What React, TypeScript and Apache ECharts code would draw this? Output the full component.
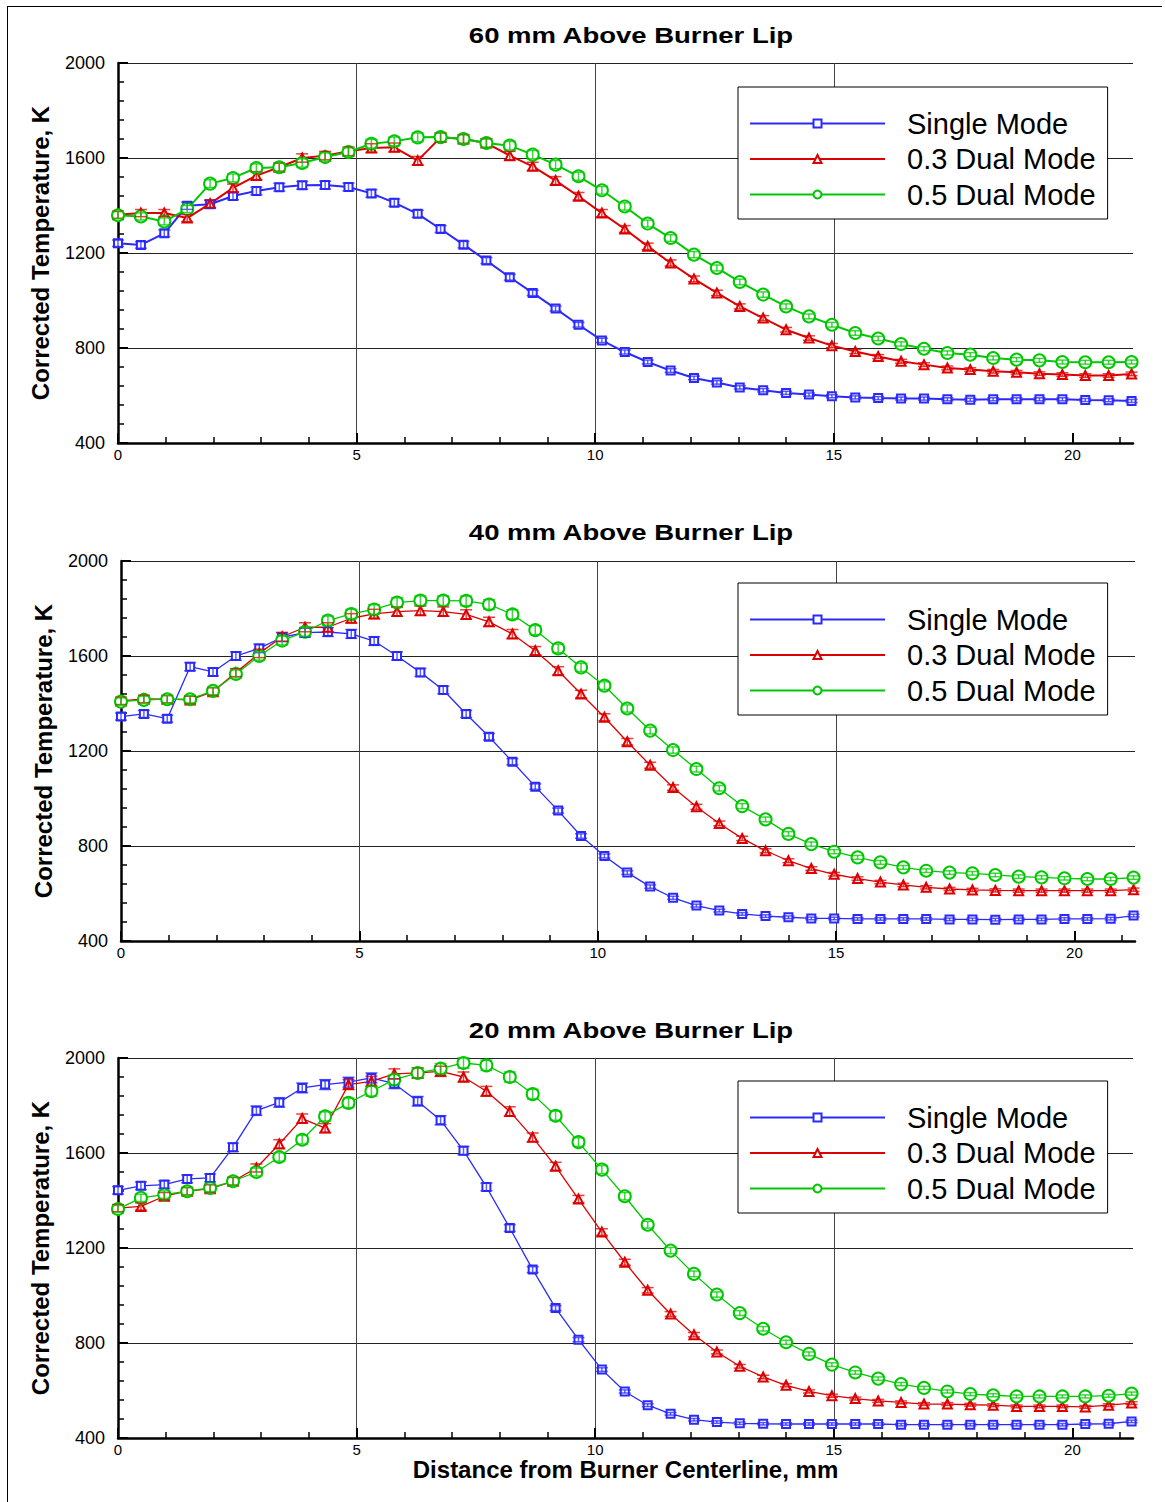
import React, { useEffect, useRef } from "react";
import * as echarts from "echarts";

// Radial positions (mm from burner centerline)
const X_MM = [
  0, 0.48, 0.97, 1.45, 1.93, 2.41, 2.9, 3.38, 3.86, 4.34, 4.83, 5.31, 5.79, 6.28, 6.76,
  7.24, 7.72, 8.21, 8.69, 9.17, 9.65, 10.14, 10.62, 11.1, 11.58, 12.07, 12.55, 13.03,
  13.52, 14.0, 14.48, 14.96, 15.45, 15.93, 16.41, 16.89, 17.38, 17.86, 18.34, 18.83,
  19.31, 19.79, 20.27, 20.76, 21.24,
];

// 60 mm above burner lip
const SINGLE_60 = [1241,1234,1283,1399,1405,1440,1461,1477,1485,1486,1478,1451,1412,1365,1301,1235,1168,1098,1032,966,898,832,783,741,705,674,655,634,622,611,604,597,592,589,587,587,584,582,584,584,584,584,581,580,577];
const DUAL03_60 = [1361,1368,1368,1347,1408,1474,1526,1561,1600,1610,1628,1642,1645,1589,1687,1680,1663,1610,1565,1505,1439,1368,1301,1228,1158,1091,1032,975,926,877,842,810,785,764,744,730,716,709,702,698,692,688,684,684,691];
const DUAL05_60 = [1359,1354,1333,1385,1492,1516,1558,1561,1579,1604,1625,1660,1670,1687,1688,1680,1663,1652,1614,1572,1523,1464,1396,1324,1263,1193,1137,1078,1025,975,933,898,863,840,817,797,779,772,758,751,748,741,740,740,741];

// 40 mm above burner lip
const SINGLE_40 = [1345,1356,1336,1555,1533,1600,1632,1679,1698,1701,1693,1663,1600,1531,1457,1356,1260,1155,1050,949,842,758,688,629,582,549,528,514,505,500,495,495,493,493,493,493,491,491,490,491,491,493,493,494,507];
const DUAL03_40 = [1411,1419,1418,1415,1450,1530,1611,1681,1721,1721,1759,1777,1787,1791,1787,1775,1744,1693,1622,1538,1440,1342,1239,1140,1046,965,895,832,780,738,705,681,663,648,636,626,619,615,613,612,612,612,612,612,616];
const DUAL05_40 = [1408,1415,1418,1418,1453,1524,1600,1665,1702,1749,1777,1796,1825,1833,1833,1832,1817,1775,1709,1632,1552,1475,1379,1286,1204,1124,1043,968,912,851,808,776,752,731,710,696,688,685,678,671,668,664,661,661,667];

// 20 mm above burner lip
const SINGLE_20 = [1443,1462,1467,1491,1495,1624,1778,1813,1874,1888,1898,1916,1892,1818,1738,1610,1457,1284,1109,947,814,688,596,538,502,477,467,462,460,459,459,459,459,459,456,456,456,456,456,456,456,456,459,460,470];
const DUAL03_20 = [1368,1375,1418,1439,1450,1481,1537,1638,1745,1705,1888,1902,1933,1937,1944,1920,1860,1775,1666,1544,1406,1267,1140,1022,922,835,762,702,657,622,596,578,566,556,550,543,543,540,538,533,533,533,531,538,547];
const DUAL05_20 = [1364,1411,1425,1439,1453,1481,1520,1583,1656,1754,1811,1860,1909,1937,1955,1979,1969,1920,1848,1757,1646,1530,1418,1298,1189,1091,1004,926,860,803,754,709,676,650,627,611,596,585,580,575,575,575,575,578,587];

const SERIES_NAMES = ["Single Mode", "0.3 Dual Mode", "0.5 Dual Mode"];
const PANEL_TITLES = ["60 mm Above Burner Lip", "40 mm Above Burner Lip", "20 mm Above Burner Lip"];
const PANEL_DATA = [
  [SINGLE_60, DUAL03_60, DUAL05_60],
  [SINGLE_40, DUAL03_40, DUAL05_40],
  [SINGLE_20, DUAL03_20, DUAL05_20],
];
const X_MAJOR = [0, 5, 10, 15, 20];
const X_MINOR = [1, 2, 3, 4, 6, 7, 8, 9, 11, 12, 13, 14, 16, 17, 18, 19, 21];
const Y_MIN = 400;
const Y_MAX = 2000;
const Y_STEP = 400;
const X_MAX = 21.27;
// measurement uncertainty (fraction of reading) for error bars
const ERR_FRACTION = 0.011;

const Y_NAME = "Corrected Temperature, K";
const X_NAME = "Distance from Burner Centerline, mm";

const COLORS = ["#2a2aff", "#dd0000", "#00c800"];
const SYMBOLS = ["emptyRect", "emptyTriangle", "emptyCircle"];
const SYMBOL_SIZES = [8, 9, 12];

const FONT = "Liberation Sans";

const GRIDS = [
  { left: 118, top: 63, width: 1015, height: 380 },
  { left: 121, top: 561, width: 1014, height: 380 },
  { left: 118, top: 1058, width: 1015, height: 380 },
];
const TITLE_Y = [35, 532, 1030];
const LEGEND_TOP = [87, 583, 1081];

export default function App() {
  const ref = useRef<HTMLDivElement>(null);

  useEffect(() => {
    if (!ref.current) return;
    const chart = echarts.init(ref.current, undefined, { renderer: "svg" });

    const xAxes: any[] = [];
    const yAxes: any[] = [];
    const series: any[] = [];
    const legends: any[] = [];
    const graphics: any[] = [];

    GRIDS.forEach((_, g) => {
      xAxes.push({
        type: "value",
        gridIndex: g,
        min: 0,
        max: X_MAX,
        interval: 5,
        position: "bottom",
        axisLine: { show: true, onZero: false, lineStyle: { color: "#000", width: 2.5 } },
        axisTick: {
          show: true,
          inside: true,
          length: 10,
          customValues: X_MAJOR,
          lineStyle: { color: "#000", width: 2 },
        },
        axisLabel: {
          show: true,
          customValues: X_MAJOR,
          fontSize: 15,
          color: "#000",
          margin: 4,
          fontFamily: FONT,
        },
        splitLine: {
          show: true,
          showMinLine: false,
          showMaxLine: false,
          lineStyle: { color: "#444", width: 1 },
        },
        name: g === 2 ? X_NAME : "",
        nameLocation: "middle",
        nameGap: 14,
        nameTextStyle: { fontSize: 24, fontWeight: "bold", color: "#000", fontFamily: FONT },
      });
      xAxes.push({
        type: "value",
        gridIndex: g,
        min: 0,
        max: X_MAX,
        position: "bottom",
        axisLine: { show: false, onZero: false },
        axisTick: {
          show: true,
          inside: true,
          length: 6,
          customValues: X_MINOR,
          lineStyle: { color: "#000", width: 1.5 },
        },
        axisLabel: { show: false },
        splitLine: { show: false },
      });
      yAxes.push({
        type: "value",
        gridIndex: g,
        min: Y_MIN,
        max: Y_MAX,
        interval: Y_STEP,
        axisLine: { show: true, onZero: false, lineStyle: { color: "#000", width: 2.5 } },
        axisTick: { show: true, inside: true, length: 10, lineStyle: { color: "#000", width: 2 } },
        minorTick: { show: true, splitNumber: 5, length: 6, lineStyle: { color: "#000", width: 1.5 } },
        axisLabel: {
          fontSize: 18,
          color: "#000",
          margin: 13,
          fontFamily: FONT,
          formatter: (v: number) => String(v),
        },
        splitLine: { show: true, showMinLine: false, lineStyle: { color: "#222", width: 1 } },
        name: Y_NAME,
        nameLocation: "middle",
        nameGap: 66,
        nameTextStyle: { fontSize: 24, fontWeight: "bold", color: "#000", fontFamily: FONT },
      });

      PANEL_DATA[g].forEach((vals, s) => {
        series.push({
          type: "line",
          name: SERIES_NAMES[s],
          xAxisIndex: g * 2,
          yAxisIndex: g,
          data: X_MM.map((x, i) => [x, vals[i]]),
          symbol: SYMBOLS[s],
          symbolSize: SYMBOL_SIZES[s],
          showAllSymbol: true,
          clip: false,
          lineStyle: { color: COLORS[s], width: g === 0 ? 2 : 1.3 },
          itemStyle: { color: COLORS[s], borderWidth: 1.2 },
          z: 3,
        });
      });
      PANEL_DATA[g].forEach((vals, s) => {
        series.push({
          type: "custom",
          name: SERIES_NAMES[s] + " uncertainty",
          xAxisIndex: g * 2,
          yAxisIndex: g,
          data: X_MM.map((x, i) => [x, vals[i], vals[i] * ERR_FRACTION]),
          encode: { x: 0, y: 1 },
          z: 4,
          renderItem: (params: any, api: any) => {
            const x = api.value(0);
            const y = api.value(1);
            const e = api.value(2);
            const top = api.coord([x, y + e]);
            const bot = api.coord([x, y - e]);
            const hw = 6;
            const mk = () => ({ stroke: COLORS[s], lineWidth: 1.5, opacity: 0.75 });
            return {
              type: "group",
              children: [
                { type: "line", shape: { x1: top[0], y1: top[1], x2: bot[0], y2: bot[1] }, style: mk() },
                { type: "line", shape: { x1: top[0] - hw, y1: top[1], x2: top[0] + hw, y2: top[1] }, style: mk() },
                { type: "line", shape: { x1: bot[0] - hw, y1: bot[1], x2: bot[0] + hw, y2: bot[1] }, style: mk() },
              ],
            };
          },
        });
      });

      legends.push({
        data: SERIES_NAMES,
        orient: "vertical",
        left: 738,
        top: LEGEND_TOP[g],
        itemWidth: 135,
        itemHeight: 10,
        itemGap: 6.5,
        padding: [22, 12, 10, 11],
        backgroundColor: "#fff",
        borderColor: "#000",
        borderWidth: 1,
        borderRadius: 0,
        selectedMode: false,
        textStyle: { fontSize: 29, color: "#000", fontFamily: FONT, padding: [0, 0, 0, 17] },
      });

      graphics.push({
        type: "text",
        x: 631,
        y: TITLE_Y[g],
        scaleX: 1.25,
        style: {
          text: PANEL_TITLES[g],
          fontSize: 22,
          fontWeight: "bold",
          fontFamily: FONT,
          fill: "#000",
          textAlign: "center",
          textVerticalAlign: "middle",
          align: "center",
          verticalAlign: "middle",
        },
      });
    });

    graphics.push({
      type: "line",
      shape: { x1: 7, y1: 6.5, x2: 1162, y2: 6.5 },
      style: { stroke: "#000", lineWidth: 1 },
    });
    graphics.push({
      type: "line",
      shape: { x1: 7.5, y1: 6, x2: 7.5, y2: 1502 },
      style: { stroke: "#000", lineWidth: 1 },
    });

    chart.setOption({
      animation: false,
      backgroundColor: "#fff",
      textStyle: { fontFamily: FONT },
      grid: GRIDS.map((gr) => ({ ...gr, containLabel: false })),
      xAxis: xAxes,
      yAxis: yAxes,
      legend: legends,
      series,
      graphic: graphics,
    });

    return () => chart.dispose();
  }, []);

  return (
    <div
      ref={ref}
      style={{ position: "absolute", left: 0, top: 0, width: 1165, height: 1502 }}
    />
  );
}
